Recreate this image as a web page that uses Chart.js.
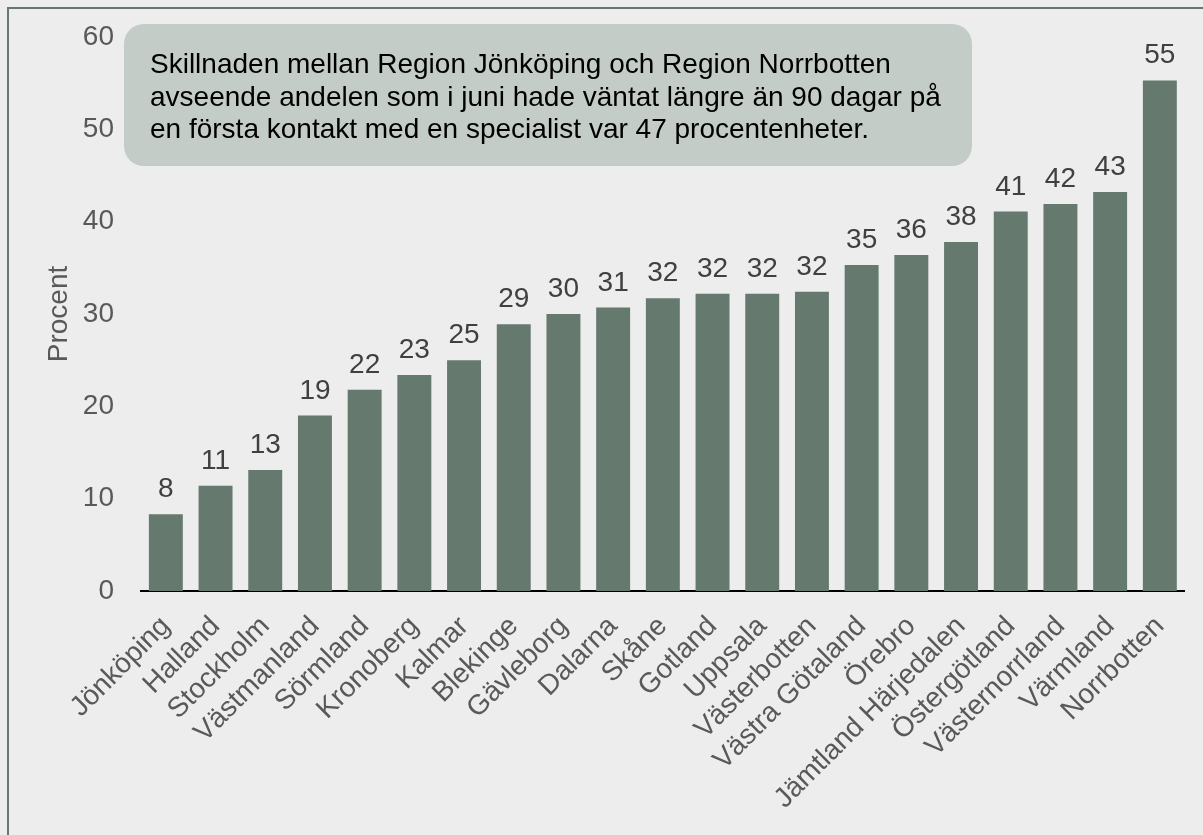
<!DOCTYPE html>
<html lang="sv">
<head>
<meta charset="utf-8">
<title>Väntat längre än 90 dagar</title>
<script src="https://cdn.jsdelivr.net/npm/chart.js@4/dist/chart.umd.min.js"></script>
<style>
  html, body { margin: 0; padding: 0; background: #ededed; }
  #wrap { width: 1203px; height: 835px; }
</style>
</head>
<body>
<div id="wrap"><canvas id="chart" width="1203" height="835"></canvas></div>
<script>
// Regioner, sorterade efter andel
const regions = [
    'Jönköping', 'Halland', 'Stockholm', 'Västmanland', 'Sörmland', 'Kronoberg', 'Kalmar',
    'Blekinge', 'Gävleborg', 'Dalarna', 'Skåne', 'Gotland', 'Uppsala', 'Västerbotten',
    'Västra Götaland', 'Örebro', 'Jämtland Härjedalen', 'Östergötland', 'Västernorrland',
    'Värmland', 'Norrbotten'
];
// Andel (procent) som väntat längre än 90 dagar
const shares = [
    8.3, 11.4, 13.1, 19.0, 21.8, 23.4, 25.0,
    28.9, 30.0, 30.7, 31.7, 32.2, 32.2, 32.4,
    35.3, 36.4, 37.8, 41.1, 41.9, 43.2, 55.3
];
const yTicks = [0, 10, 20, 30, 40, 50, 60];
const noteLines = [
    'Skillnaden mellan Region Jönköping och Region Norrbotten',
    'avseende andelen som i juni hade väntat längre än 90 dagar på',
    'en första kontakt med en specialist var 47 procentenheter.'
];

const FONT = '"Liberation Sans", Arial, sans-serif';
const barColor = '#65796f';

// Bakgrund och ram
const frame = {
    id: 'frame',
    beforeDraw(chart) {
        const c = chart.ctx;
        c.save();
        c.fillStyle = '#ededed';
        c.fillRect(0, 0, chart.width, chart.height);
        c.strokeStyle = '#65786f';
        c.lineWidth = 2;
        c.beginPath();
        c.moveTo(8, chart.height + 5);
        c.lineTo(8, 8);
        c.lineTo(chart.width + 5, 8);
        c.stroke();
        c.restore();
    }
};

// Värden ovanför staplarna
const valueLabels = {
    id: 'valueLabels',
    afterDatasetsDraw(chart) {
        const c = chart.ctx;
        const meta = chart.getDatasetMeta(0);
        c.save();
        c.font = '28px ' + FONT;
        c.fillStyle = '#404040';
        c.textAlign = 'center';
        c.textBaseline = 'alphabetic';
        meta.data.forEach((bar, i) => {
            c.fillText(String(Math.round(shares[i])), bar.x, bar.y - 17);
        });
        c.restore();
    }
};

// Textruta
const noteBox = {
    id: 'noteBox',
    afterDraw(chart) {
        const c = chart.ctx;
        const x = 124, y = 24, w = 848, h = 142, r = 20;
        c.save();
        c.fillStyle = '#c3ccc7';
        c.beginPath();
        c.roundRect(x, y, w, h, r);
        c.fill();
        c.fillStyle = '#000';
        c.font = '28px ' + FONT;
        c.textAlign = 'left';
        c.textBaseline = 'alphabetic';
        noteLines.forEach((line, i) => {
            c.fillText(line, 150, 73 + i * 32.5);
        });
        c.restore();
    }
};

const ctx = document.getElementById('chart').getContext('2d');

new Chart(ctx, {
    type: 'bar',
    data: {
        labels: regions,
        datasets: [{
            label: 'Procent',
            data: shares,
            backgroundColor: barColor,
            borderWidth: 0,
            categoryPercentage: 1,
            barPercentage: 0.683,
        }]
    },
    options: {
        responsive: false,
        animation: false,
        events: [],
        layout: { padding: { top: 37, right: 17, bottom: 0, left: 0 } },
        plugins: {
            legend: { display: false },
            tooltip: { enabled: false },
        },
        scales: {
            x: {
                grid: { display: false, drawTicks: false },
                border: { display: true, color: '#000', width: 2 },
                ticks: {
                    color: '#595959',
                    font: { size: 28, family: FONT },
                    minRotation: 45,
                    maxRotation: 45,
                    autoSkip: false,
                    padding: 19,
                },
                afterFit: (scale) => { scale.height = 244; }
            },
            y: {
                min: 0,
                max: 60,
                afterBuildTicks: (scale) => { scale.ticks = yTicks.map(v => ({ value: v })); },
                grid: { display: false, drawTicks: false },
                border: { display: false },
                ticks: {
                    color: '#595959',
                    font: { size: 28, family: FONT },
                    padding: 27,
                },
                title: {
                    display: true,
                    text: 'Procent',
                    color: '#595959',
                    font: { size: 28, family: FONT },
                    padding: { top: 42, bottom: 0 },
                },
                afterFit: (scale) => {
                    scale.width = 141;
                    // tick padding should not push the plot area down
                    scale.paddingTop = 15;
                    scale.paddingBottom = 15;
                }
            }
        }
    },
    plugins: [frame, valueLabels, noteBox]
});
</script>
</body>
</html>
